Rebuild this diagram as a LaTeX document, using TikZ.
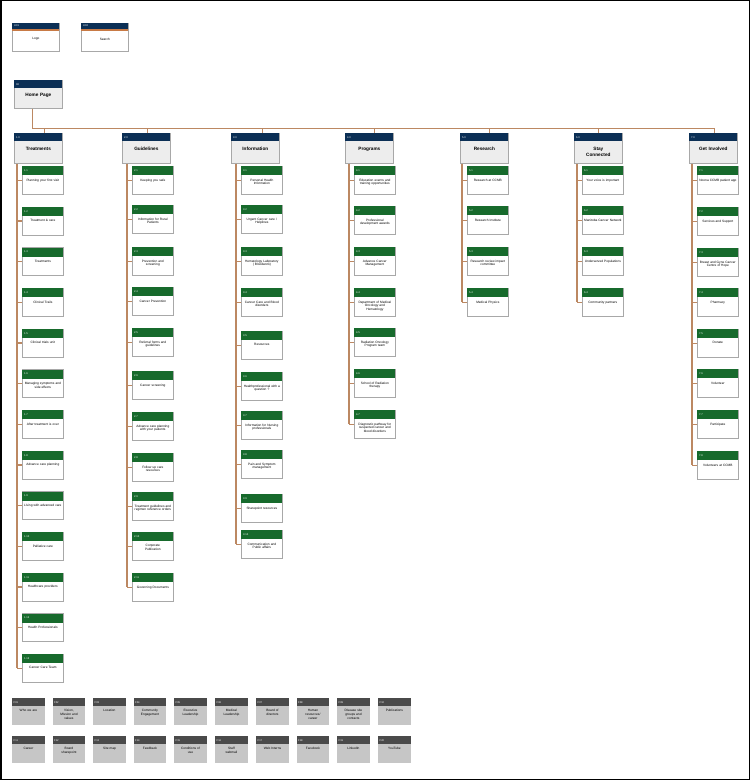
\documentclass[tikz,border=0pt]{standalone}
\usepackage{fontspec}
\setmainfont{Liberation Sans}
\usetikzlibrary{calc,shadows}
\definecolor{navy}{HTML}{0B2F55}
\definecolor{stripe}{HTML}{C87A45}
\definecolor{greenc}{HTML}{176A2C}
\definecolor{hgray}{HTML}{EDEDED}
\definecolor{boxline}{HTML}{A8A8A8}
\definecolor{connc}{HTML}{BC8862}
\definecolor{fheadc}{HTML}{4A4A4A}
\definecolor{fbodyc}{HTML}{C6C6C6}
\newcommand\txtf{\fontsize{3.2}{3.9}\selectfont}
\newcommand\codef{\fontsize{2.6}{3}\selectfont}
\newcommand\hfont{\fontsize{4.7}{5.6}\selectfont\bfseries}
\tikzset{
 conn/.style={draw=connc, line width=1.2pt},
 shd/.style={drop shadow={shadow xshift=0.5pt, shadow yshift=-0.8pt, fill=black!30, opacity=1}},
 cbody/.style={shd, draw=boxline, fill=white, line width=0.7pt, minimum width=41pt, minimum height=28pt, inner sep=0pt, anchor=north west},
 chead/.style={fill=greenc, text width=37pt, inner xsep=2pt, inner ysep=0pt, minimum height=9pt, anchor=north west, text=white, font=\codef, align=left},
 ctext/.style={anchor=north, text width=44pt, align=center, inner sep=0pt, font=\txtf},
 hbody/.style={shd, draw=boxline, fill=hgray, line width=0.7pt, minimum width=48pt, minimum height=30pt, inner sep=0pt, anchor=north west},
 hhead/.style={fill=navy, text width=44pt, inner xsep=2pt, inner ysep=0pt, minimum height=8pt, anchor=north west, text=white, font=\codef, align=left},
 htext/.style={anchor=north, text width=46pt, align=center, inner sep=0pt, font=\hfont},
 ubody/.style={shd, draw=boxline, fill=white, line width=0.7pt, minimum width=47pt, minimum height=28pt, inner sep=0pt, anchor=north west},
 fbody/.style={fill=fbodyc, minimum width=32.5pt, minimum height=27pt, inner sep=0pt, anchor=north west},
 fhead/.style={fill=fheadc, text width=29.5pt, inner xsep=1.5pt, inner ysep=0pt, minimum height=8pt, anchor=north west, text=white, font=\codef, align=left},
 ftext/.style={anchor=north, text width=34pt, align=center, inner sep=0pt, font=\txtf},
}
\newcommand\cbx[5]{%
 \node[cbody] (#1) at (#2,#3) {};
 \node[chead] (#1h) at (#1.north west) {#4};
 \node[ctext] (#1t) at ([yshift=-12.5pt]#1.north) {#5};
 \draw[conn] (#1.west) -- ++(-5,0);
}
\newcommand\hbx[5]{%
 \node[hbody] (#1) at (#2,#3) {};
 \node[hhead] (#1h) at (#1.north west) {#4};
 \node[htext] (#1t) at ([yshift=-14pt]#1.north) {#5};
}
\newcommand\fbx[5]{%
 \node[fbody] (#1) at (#2,#3) {};
 \node[fhead] (#1h) at (#1.north west) {#4};
 \node[ftext] (#1t) at ([yshift=-11pt]#1.north) {#5};
}
\begin{document}
\begin{tikzpicture}[x=1pt,y=-1pt]
\useasboundingbox (0,0) rectangle (750,781);
\fill[white] (0,0) rectangle (750,781);
\draw[black, line width=1.5pt] (0.75,0.75) rectangle (749.25,779.5);

% utility boxes
\node[ubody] (u1) at (12,23) {};
\fill[navy] (u1.north west) rectangle ++(47,6);
\fill[stripe] ($(u1.north west)+(0,6)$) rectangle ++(47,2);
\node[anchor=west, text=white, font=\codef, inner sep=0pt] (u1h) at ($(u1.north west)+(2,3)$) {U01};
\node[font=\txtf, inner sep=0pt] (u1t) at ($(u1.north)+(0,16)$) {Logo};
\node[ubody] (u2) at (81,23) {};
\fill[navy] (u2.north west) rectangle ++(47,6);
\fill[stripe] ($(u2.north west)+(0,6)$) rectangle ++(47,2);
\node[anchor=west, text=white, font=\codef, inner sep=0pt] (u2h) at ($(u2.north west)+(2,3)$) {U02};
\node[font=\txtf, inner sep=0pt] (u2t) at ($(u2.north)+(0,16)$) {Search};

% home
\node[hbody, minimum height=28pt] (home) at (14,80) {};
\node[hhead] (homeh) at (home.north west) {00};
\node[htext] (homet) at ([yshift=-13pt]home.north) {Home Page};

% headers
\hbx{h1}{14}{133}{1.0}{Treatments}
\hbx{h2}{122}{133}{2.0}{Guidelines}
\hbx{h3}{231}{133}{3.0}{Information}
\hbx{h4}{345}{133}{4.0}{Programs}
\hbx{h5}{460}{133}{5.0}{Research}
\hbx{h6}{574}{133}{6.0}{Stay\\Connected}
\hbx{h7}{689}{133}{7.0}{Get Involved}

% bus
\path (home.south) ++(-6,0) coordinate (d0);
\coordinate (busL) at (32,128.5);
\path (h1.north) ++(6,0) coordinate (d1);
\path (h2.north) ++(1,0) coordinate (d2);
\path (h3.north) ++(7.5,0) coordinate (d3);
\path (h4.north) ++(5,0) coordinate (d4);
\path (h5.north) ++(5.5,0) coordinate (d5);
\path (h6.north) ++(0.5,0) coordinate (d6);
\path (h7.north) ++(1,0) coordinate (d7);
\draw[conn] (d0) -- (d0 |- busL) -- (d7 |- busL) -- (d7);
\foreach \d in {d1,d2,d3,d4,d5,d6} \draw[conn] (\d) -- (\d |- busL);

% column 1
\cbx{ta}{22}{166}{1.1}{Planning your first visit}
\cbx{tb}{22}{206.7}{1.2}{Treatment \& care}
\cbx{tc}{22}{247.3}{1.3}{Treatments}
\cbx{td}{22}{288}{1.4}{Clinical Trails}
\cbx{te}{22}{328.7}{1.5}{Clinical trials unit}
\cbx{tf}{22}{369.3}{1.6}{Managing symptoms and\\side effects}
\cbx{tg}{22}{410}{1.7}{After treatment is over}
\cbx{th}{22}{450.7}{1.8}{Advance care planning}
\cbx{ti}{22}{491.3}{1.9}{Living with advanced care}
\cbx{tj}{22}{532}{1.10}{Palliative care}
\cbx{tk}{22}{572.7}{1.11}{Healthcare providers}
\cbx{tl}{22}{613.3}{1.12}{Health Professionals}
\cbx{tm}{22}{654}{1.13}{Cancer Care Team}
\path (ta.west) ++(-5,0) coordinate (sp1);
\draw[conn] (sp1 |- h1.south) -- (sp1 |- tm.west);

% column 2
\cbx{ga}{132}{166}{2.1}{Keeping you safe}
\cbx{gb}{132}{205}{2.2}{Information for Rural\\Patients}
\cbx{gc}{132}{247}{2.3}{Prevention and\\screening}
\cbx{gd}{132}{287}{2.4}{Cancer Prevention}
\cbx{ge}{132}{328}{2.5}{Referral forms and\\guidelines}
\cbx{gf}{132}{371}{2.6}{Cancer screening}
\cbx{gg}{132}{412}{2.7}{Advance care planning\\with your patients}
\cbx{gh}{132}{453}{2.8}{Follow up care\\resources}
\cbx{gi}{132}{492}{2.9}{Treatment guidelines and\\regimen reference orders}
\cbx{gj}{132}{532}{2.10}{Corporate\\Publication}
\cbx{gk}{132}{573}{2.11}{Governing Documents}
\path (ga.west) ++(-5,0) coordinate (sp2);
\draw[conn] (sp2 |- h2.south) -- (sp2 |- gk.west);

% column 3
\cbx{ia}{241}{166}{3.1}{Personal Health\\Information}
\cbx{ib}{241}{205}{3.2}{Urgent Cancer care /\\Helplines}
\cbx{ic}{241}{247}{3.3}{Hematology Laboratory\\( Bloodwork)}
\cbx{id}{241}{288}{3.4}{Cancer Care and Blood\\disorders}
\cbx{ie}{241}{331}{3.5}{Resources}
\cbx{if}{241}{372}{3.6}{Healthprofessional with a\\question ?}
\cbx{ig}{241}{411}{3.7}{Information for Nursing\\professionals}
\cbx{ih}{241}{450}{3.8}{Pain and Symptom\\management}
\cbx{ii}{241}{494}{3.9}{Sharepoint resources}
\cbx{ij}{241}{530}{3.10}{Communication and\\Public affairs}
\path (ia.west) ++(-5,0) coordinate (sp3);
\draw[conn] (sp3 |- h3.south) -- (sp3 |- ij.west);

% column 4
\cbx{pa}{354}{166}{4.1}{Education events and\\training opportunities}
\cbx{pb}{354}{206}{4.2}{Professional\\development awards}
\cbx{pc}{354}{247}{4.3}{Advance Cancer\\Management}
\cbx{pd}{354}{288}{4.4}{Department of Medical\\Oncology and\\Hematology}
\cbx{pe}{354}{328}{4.5}{Radiation Oncology\\Program team}
\cbx{pf}{354}{369}{4.6}{School of Radiation\\therapy}
\cbx{pg}{354}{410}{4.7}{Diagnostic pathway for\\suspected cancer and\\blood disorders}
\path (pa.west) ++(-5,0) coordinate (sp4);
\draw[conn] (sp4 |- h4.south) -- (sp4 |- pg.west);

% column 5
\cbx{ra}{467}{166}{5.1}{Research at CCMB}
\cbx{rb}{467}{206}{5.2}{Research Institute}
\cbx{rc}{467}{247}{5.3}{Research review impact\\committee}
\cbx{rd}{467}{288}{5.4}{Medical Physics}
\path (ra.west) ++(-5,0) coordinate (sp5);
\draw[conn] (sp5 |- h5.south) -- (sp5 |- rd.west);

% column 6
\cbx{sa}{582}{166}{6.1}{Your voice is important}
\cbx{sb}{582}{206}{6.2}{Manitoba Cancer Network}
\cbx{sc}{582}{247}{6.3}{Underserved Populations}
\cbx{sd}{582}{288}{6.4}{Community partners}
\path (sa.west) ++(-5,0) coordinate (sp6);
\draw[conn] (sp6 |- h6.south) -- (sp6 |- sd.west);

% column 7
\cbx{va}{697}{166}{7.1}{Noona CCMB patient app}
\cbx{vb}{697}{207}{7.2}{Services and Support}
\cbx{vc}{697}{248}{7.3}{Breast and Gyne Cancer\\Centre of Hope}
\cbx{vd}{697}{288}{7.4}{Pharmacy}
\cbx{ve}{697}{329}{7.5}{Donate}
\cbx{vf}{697}{369}{7.6}{Volunteer}
\cbx{vg}{697}{410}{7.7}{Participate}
\cbx{vh}{697}{451}{7.8}{Volunteers at CCMB}
\path (va.west) ++(-5,0) coordinate (sp7);
\draw[conn] (sp7 |- h7.south) -- (sp7 |- vh.west);

% footer row 1
\fbx{f1}{12}{698}{F01}{Who we are}
\fbx{f2}{52.5}{698}{F02}{Vision,\\Mission and\\values}
\fbx{f3}{93}{698}{F03}{Location}
\fbx{f4}{133.5}{698}{F04}{Community\\Engagement}
\fbx{f5}{174}{698}{F05}{Executive\\Leadership}
\fbx{f6}{215}{698}{F06}{Medical\\Leadership}
\fbx{f7}{256}{698}{F07}{Board of\\directors}
\fbx{f8}{296.5}{698}{F08}{Human\\resources/\\career}
\fbx{f9}{337}{698}{F09}{Disease site\\groups and\\contacts}
\fbx{f10}{378}{698}{F10}{Publications}
% footer row 2
\fbx{f11}{12}{736}{F11}{Career}
\fbx{f12}{52.5}{736}{F12}{Board\\sharepoint}
\fbx{f13}{93}{736}{F13}{Site map}
\fbx{f14}{133.5}{736}{F14}{Feedback}
\fbx{f15}{174}{736}{F15}{Conditions of\\use}
\fbx{f16}{215}{736}{F16}{Staff\\webmail}
\fbx{f17}{256}{736}{F17}{Web Interns}
\fbx{f18}{296.5}{736}{F18}{Facebook}
\fbx{f19}{337}{736}{F19}{LinkedIn}
\fbx{f20}{378}{736}{F20}{YouTube}
\end{tikzpicture}
\end{document}
